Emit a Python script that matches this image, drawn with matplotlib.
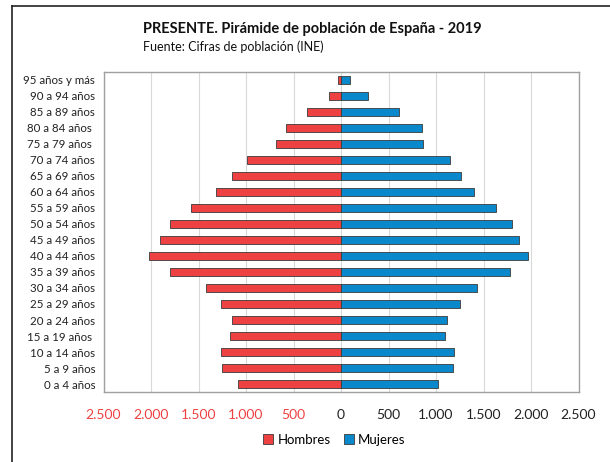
import matplotlib
matplotlib.use("Agg")
import matplotlib.pyplot as plt
from matplotlib.lines import Line2D
from matplotlib.ticker import FixedLocator

plt.rcParams['font.family'] = ['Lato', 'DejaVu Sans']

age_groups = ["0 a 4 años", "5 a 9 años", "10 a 14 años", "15 a 19 años ", "20 a 24 años",
              "25 a 29 años", "30 a 34 años", "35 a 39 años", "40 a 44 años", "45 a 49 años",
              "50 a 54 años", "55 a 59 años", "60 a 64 años", "65 a 69 años", "70 a 74 años",
              "75 a 79 años ", "80 a 84 años ", "85 a 89 años", "90 a 94 años", "95 años y más"]
hombres = [1084, 1249, 1267, 1168, 1151, 1267, 1418, 1800, 2018, 1909,
           1797, 1582, 1319, 1151, 986, 681, 582, 355, 123, 35]
mujeres = [1024, 1182, 1193, 1098, 1112, 1253, 1435, 1782, 1964, 1874,
           1803, 1632, 1403, 1263, 1151, 863, 849, 614, 280, 95]
x_ticks = [-2500, -2000, -1500, -1000, -500, 0, 500, 1000, 1500, 2000, 2500]

red = "#EE4242"
blue = "#0A88CC"

fig = plt.figure(figsize=(6.10, 4.62), dpi=100)
ax = fig.add_axes([0.1697, 0.1515, 0.7787, 0.6927])

y = list(range(len(age_groups)))
ax.barh(y, [-v for v in hombres], height=0.45, color=red, edgecolor="#3a3a3a",
        linewidth=0.6, zorder=3, label="Hombres")
ax.barh(y, mujeres, height=0.45, color=blue, edgecolor="#3a3a3a",
        linewidth=0.6, zorder=3, label="Mujeres")

ax.set_xlim(-2500, 2500)
ax.set_ylim(-0.5, len(age_groups) - 0.5)
ax.xaxis.set_major_locator(FixedLocator(x_ticks))

def fmt(v):
    return f"{abs(v):,}".replace(",", ".")

ax.set_xticklabels([fmt(v) for v in x_ticks], fontsize=10)
for lbl, v in zip(ax.get_xticklabels(), x_ticks):
    lbl.set_color(red if v < 0 else "#222222")
ax.set_yticks(y)
ax.set_yticklabels(age_groups, fontsize=8.3, color="#222222")
ax.tick_params(axis="both", length=0)
ax.tick_params(axis="x", pad=12)
ax.tick_params(axis="y", pad=6)

ax.grid(axis="x", color="#d9d9d9", linewidth=0.8, zorder=0)
ax.set_axisbelow(True)
for s in ax.spines.values():
    s.set_color("#a0a0a0")
    s.set_linewidth(1.0)

fig.text(0.2344, 1 - 29 / 462, "PRESENTE. Pirámide de población de España - 2019",
         fontsize=10.5, fontweight="bold", ha="left", va="center", color="#111111")
fig.text(0.2344, 1 - 47 / 462, "Fuente: Cifras de población (INE)",
         fontsize=9, ha="left", va="center", color="#111111")

leg = fig.legend(loc="center", bbox_to_anchor=(0.548, 1 - 440 / 462), ncol=2,
                 frameon=False, fontsize=9.5, handlelength=0.8, handleheight=0.8,
                 handletextpad=0.3, columnspacing=1.0)

# outer frame (left and top edges visible)
fig.add_artist(Line2D([12 / 610, 12 / 610], [0, 1 - 6 / 462], transform=fig.transFigure,
                      color="#222222", linewidth=1.2))
fig.add_artist(Line2D([12 / 610, 1], [1 - 6 / 462, 1 - 6 / 462], transform=fig.transFigure,
                      color="#222222", linewidth=1.2))

fig.savefig("out.png", dpi=100, facecolor="white")
